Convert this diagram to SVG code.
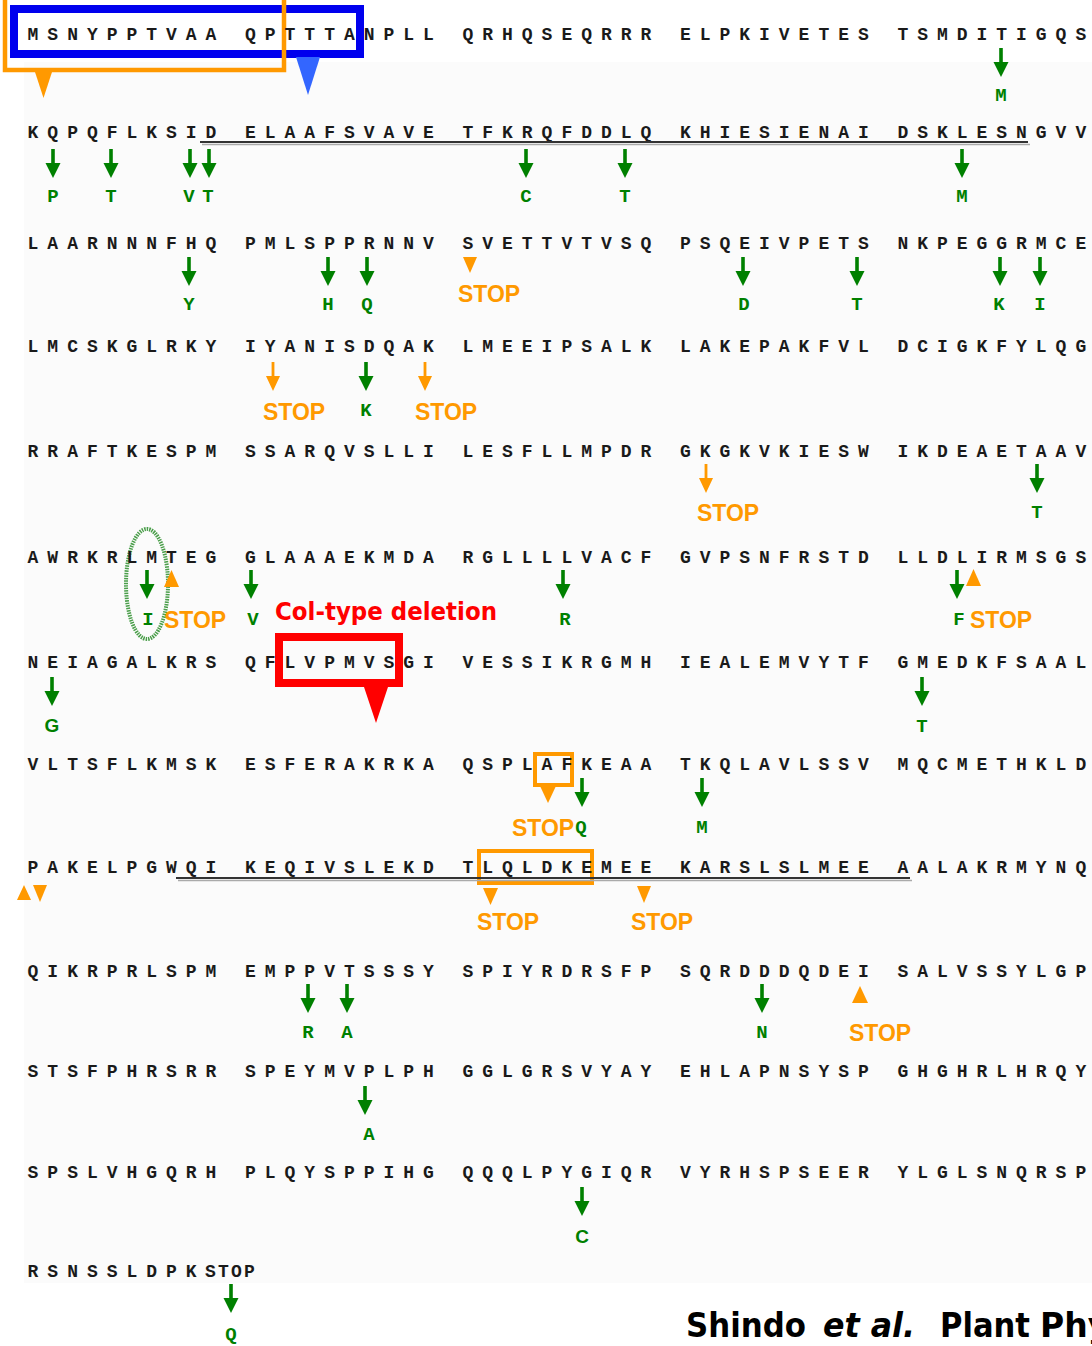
<svg xmlns="http://www.w3.org/2000/svg" width="1092" height="1346" viewBox="0 0 1092 1346">
<style>
.seq{font-family:"Liberation Mono",monospace;font-weight:bold;font-size:18px;fill:#1a1a1a}
.gl{font-family:"Liberation Mono",monospace;font-weight:bold;font-size:19px;fill:#008000;text-anchor:middle}
.gs{font-family:"Liberation Sans",Arial,sans-serif;font-weight:bold;font-size:19px;fill:#008000;text-anchor:middle}
.stop{font-family:"Liberation Sans",Arial,sans-serif;font-weight:bold;font-size:23px;fill:#FF9900}
.del{font-family:"DejaVu Sans",sans-serif;font-weight:bold;font-size:25px;fill:#FF0000}
.cite{font-family:"DejaVu Sans",sans-serif;font-weight:bold;font-size:33px;fill:#000}
.ul{stroke:#333;stroke-width:2}
.ul2{stroke:#aaa;stroke-width:1.5}
.otri{fill:#FF9900}
</style>
<defs>
<g id="ga"><rect x="-1.8" y="0" width="3.6" height="16" fill="#008000"/><polygon points="-7.5,14 7.5,14 0,29" fill="#008000"/></g>
<g id="oa"><rect x="-1.4" y="0" width="2.8" height="16" fill="#FF9900"/><polygon points="-7,14 7,14 0,29" fill="#FF9900"/></g>
</defs>
<rect width="1092" height="1346" fill="#fff"/>
<rect x="24" y="62" width="1068" height="1221" fill="#fbfbfb"/>

<g id="highlights">
<rect x="14" y="9" width="346" height="45" fill="none" stroke="#0000EE" stroke-width="8"/>
<rect x="5" y="-10" width="279" height="80" fill="none" stroke="#FF9900" stroke-width="4.5"/>
<rect x="279" y="637" width="120" height="46" fill="none" stroke="#FF0000" stroke-width="8"/>
<rect x="535" y="754" width="37" height="31" fill="none" stroke="#FF9900" stroke-width="4"/>
<rect x="479" y="851" width="113" height="32" fill="none" stroke="#FF9900" stroke-width="4"/>
<ellipse cx="147" cy="584" rx="21" ry="55" fill="none" stroke="#4a9e4a" stroke-width="4" stroke-dasharray="1.5 1"/>
</g>

<g id="row1"><text class="seq" x="27.6" y="40" textLength="1058.6" lengthAdjust="spacing">MSNYPPTVAA QPTTTANPLL QRHQSEQRRR ELPKIVETES TSMDITIGQS</text></g>
<g id="row2"><text class="seq" x="27.6" y="138" textLength="1058.6" lengthAdjust="spacing">KQPQFLKSID ELAAFSVAVE TFKRQFDDLQ KHIESIENAI DSKLESNGVV</text>
<line class="ul" x1="200" y1="142" x2="1028" y2="142"/><line class="ul2" x1="202" y1="144.5" x2="1030" y2="144.5"/></g>
<g id="row3"><text class="seq" x="27.6" y="249" textLength="1058.6" lengthAdjust="spacing">LAARNNNFHQ PMLSPPRNNV SVETTVTVSQ PSQEIVPETS NKPEGGRMCE</text></g>
<g id="row4"><text class="seq" x="27.6" y="352" textLength="1058.6" lengthAdjust="spacing">LMCSKGLRKY IYANISDQAK LMEEIPSALK LAKEPAKFVL DCIGKFYLQG</text></g>
<g id="row5"><text class="seq" x="27.6" y="457" textLength="1058.6" lengthAdjust="spacing">RRAFTKESPM SSARQVSLLI LESFLLMPDR GKGKVKIESW IKDEAETAAV</text></g>
<g id="row6"><text class="seq" x="27.6" y="563" textLength="1058.6" lengthAdjust="spacing">AWRKRLMTEG GLAAAEKMDA RGLLLLVACF GVPSNFRSTD LLDLIRMSGS</text></g>
<g id="row7"><text class="seq" x="27.6" y="668" textLength="1058.6" lengthAdjust="spacing">NEIAGALKRS QFLVPMVSGI VESSIKRGMH IEALEMVYTF GMEDKFSAAL</text></g>
<g id="row8"><text class="seq" x="27.6" y="770" textLength="1058.6" lengthAdjust="spacing">VLTSFLKMSK ESFERAKRKA QSPLAFKEAA TKQLAVLSSV MQCMETHKLD</text></g>
<g id="row9"><text class="seq" x="27.6" y="873" textLength="1058.6" lengthAdjust="spacing">PAKELPGWQI KEQIVSLEKD TLQLDKEMEE KARSLSLMEE AALAKRMYNQ</text>
<line class="ul" x1="176" y1="878" x2="910" y2="878"/><line class="ul2" x1="178" y1="880.5" x2="912" y2="880.5"/></g>
<g id="row10"><text class="seq" x="27.6" y="977" textLength="1058.6" lengthAdjust="spacing">QIKRPRLSPM EMPPVTSSSY SPIYRDRSFP SQRDDDQDEI SALVSSYLGP</text></g>
<g id="row11"><text class="seq" x="27.6" y="1077" textLength="1058.6" lengthAdjust="spacing">STSFPHRSRR SPEYMVPLPH GGLGRSVYAY EHLAPNSYSP GHGHRLHRQY</text></g>
<g id="row12"><text class="seq" x="27.6" y="1178" textLength="1058.6" lengthAdjust="spacing">SPSLVHGQRH PLQYSPPIHG QQQLPYGIQR VYRHSPSEER YLGLSNQRSP</text></g>
<g id="row13"><text class="seq" x="27.6" y="1277" style="letter-spacing:8.97px">RSNSSLDPK</text><text class="seq" x="205" y="1277" style="letter-spacing:2.2px">STOP</text></g>

<g id="connectors">
<polygon points="35,72 52,72 43.5,98" fill="#FF9900"/>
<polygon points="296,57 320,57 308,95" fill="#3366FF"/>
<polygon points="364,687 388,687 376,723" fill="#FF0000"/>
<use href="#ga" x="1001" y="48"/>
<use href="#ga" x="53" y="149"/><use href="#ga" x="111" y="149"/><use href="#ga" x="190" y="149"/><use href="#ga" x="209" y="149"/><use href="#ga" x="526" y="149"/><use href="#ga" x="625" y="149"/><use href="#ga" x="962" y="149"/>
<use href="#ga" x="189" y="257"/><use href="#ga" x="328" y="257"/><use href="#ga" x="367" y="257"/><use href="#ga" x="743" y="257"/><use href="#ga" x="857" y="257"/><use href="#ga" x="1000" y="257"/><use href="#ga" x="1040" y="257"/>
<polygon class="otri" points="463,257 477,257 470,273"/>
<use href="#oa" x="273" y="362"/><use href="#ga" x="366" y="362"/><use href="#oa" x="425" y="362"/>
<use href="#oa" x="706" y="464"/><use href="#ga" x="1037" y="464"/>
<use href="#ga" x="147" y="570"/><polygon class="otri" points="164,587 179,587 171.5,570"/><use href="#ga" x="251" y="570"/><use href="#ga" x="563" y="570"/><use href="#ga" x="957" y="570"/><polygon class="otri" points="966,586 981,586 973.5,569"/>
<use href="#ga" x="52" y="677"/><use href="#ga" x="922" y="677"/>
<polygon class="otri" points="540,786 556,786 548,803"/><use href="#ga" x="582" y="778"/><use href="#ga" x="702" y="778"/>
<polygon class="otri" points="17,900 31,900 24,885"/><polygon class="otri" points="33,885 47,885 40,902"/>
<polygon class="otri" points="483,888 498,888 490.5,905"/><polygon class="otri" points="637,886 651,886 644,903"/>
<use href="#ga" x="308" y="984"/><use href="#ga" x="347" y="984"/><use href="#ga" x="762" y="984"/><polygon class="otri" points="852,1003 868,1003 860,986"/>
<use href="#ga" x="365" y="1086"/>
<use href="#ga" x="582" y="1187"/>
<use href="#ga" x="231" y="1284"/>
</g>

<g id="labels">
<text class="gl" x="1001" y="101">M</text>
<text class="gl" x="53" y="202">P</text><text class="gl" x="111" y="202">T</text><text class="gl" x="189" y="202">V</text><text class="gl" x="208" y="202">T</text><text class="gl" x="526" y="202">C</text><text class="gl" x="625" y="202">T</text><text class="gl" x="962" y="202">M</text>
<text class="gl" x="189" y="310">Y</text><text class="gl" x="328" y="310">H</text><text class="gl" x="367" y="310">Q</text><text class="gl" x="744" y="310">D</text><text class="gl" x="857" y="310">T</text><text class="gl" x="999" y="310">K</text><text class="gl" x="1040" y="310">I</text>
<text class="stop" x="458" y="302">STOP</text>
<text class="stop" x="263" y="420">STOP</text><text class="gl" x="366" y="416">K</text><text class="stop" x="415" y="420">STOP</text>
<text class="stop" x="697" y="521">STOP</text><text class="gl" x="1037" y="518">T</text>
<text class="gl" x="148" y="625">I</text><text class="stop" x="164" y="628">STOP</text><text class="gl" x="253" y="625">V</text>
<text class="del" x="275" y="620" textLength="222" lengthAdjust="spacingAndGlyphs">Col-type deletion</text>
<text class="gl" x="565" y="625">R</text><text class="gl" x="959" y="625">F</text><text class="stop" x="970" y="628">STOP</text>
<text class="gs" x="52" y="732">G</text><text class="gl" x="922" y="732">T</text>
<text class="stop" x="512" y="836">STOP</text><text class="gl" x="581" y="833">Q</text><text class="gl" x="702" y="833">M</text>
<text class="stop" x="477" y="930">STOP</text><text class="stop" x="631" y="930">STOP</text>
<text class="gl" x="308" y="1038">R</text><text class="gl" x="347" y="1038">A</text><text class="gl" x="762" y="1038">N</text><text class="stop" x="849" y="1041">STOP</text>
<text class="gl" x="369" y="1140">A</text>
<text class="gs" x="582" y="1243">C</text>
<text class="gl" x="231" y="1340">Q</text>
</g>

<g id="citation">
<text class="cite" x="686" y="1337" textLength="120" lengthAdjust="spacingAndGlyphs">Shindo</text>
<text class="cite" x="823" y="1337" font-style="italic" textLength="92" lengthAdjust="spacingAndGlyphs">et al.</text>
<text class="cite" x="940" y="1337" textLength="90" lengthAdjust="spacingAndGlyphs">Plant</text>
<text class="cite" x="1040" y="1337">Phy</text>
</g>
</svg>
